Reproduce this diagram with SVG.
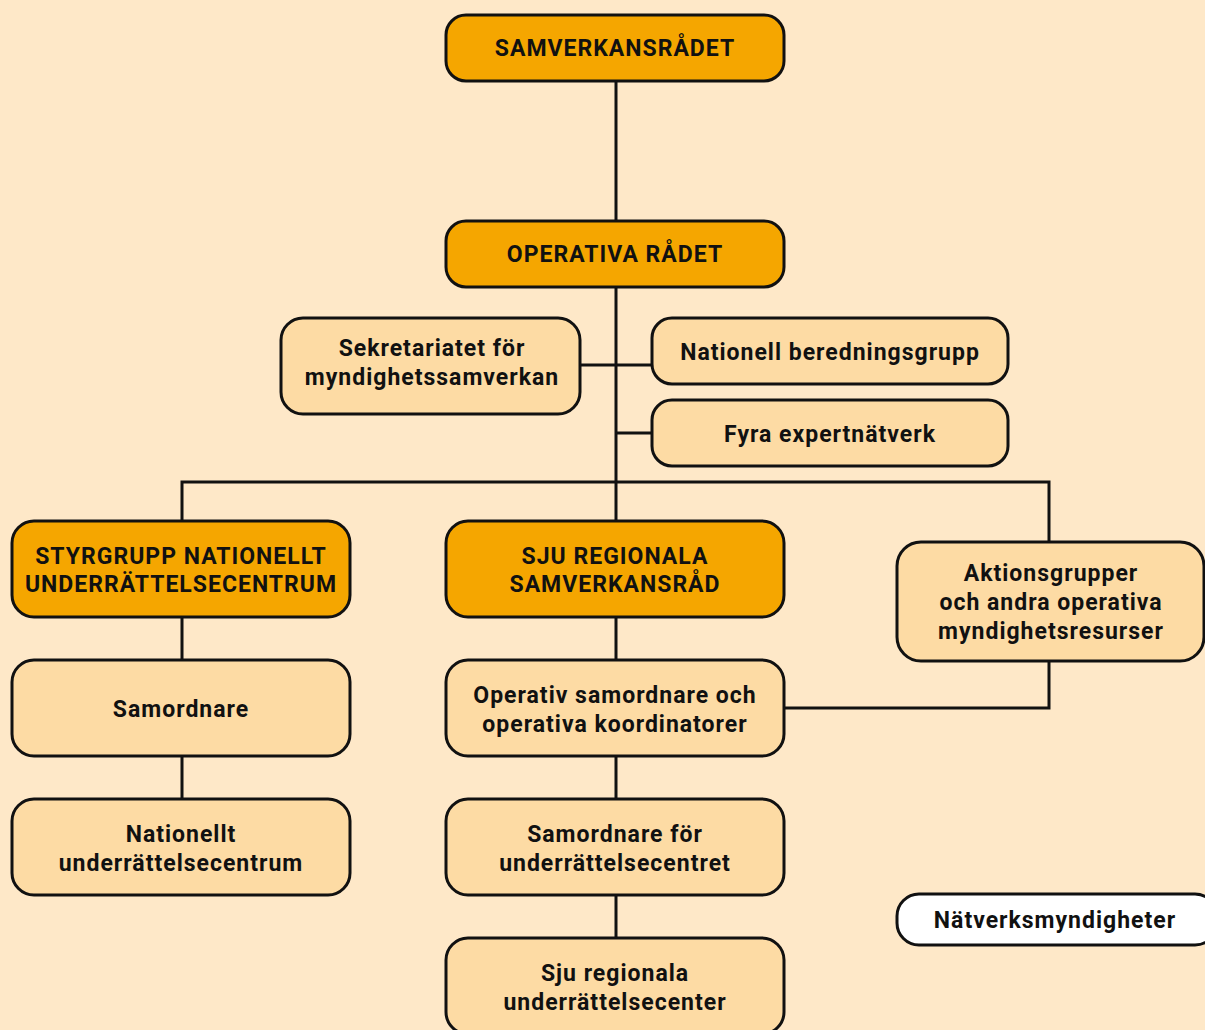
<svg xmlns="http://www.w3.org/2000/svg" width="1205" height="1030" viewBox="0 0 1205 1030">
<style>
.bg{fill:#FEE8C8}
.dark{fill:#F5A600;stroke:#111;stroke-width:3}
.light{fill:#FDDBA4;stroke:#111;stroke-width:3}
.white{fill:#FFFFFF;stroke:#111;stroke-width:3}
.t{font-family:Roboto,"Liberation Sans",sans-serif;font-weight:bold;font-size:23px;fill:#111;text-anchor:middle;letter-spacing:1px}
.c{fill:none;stroke:#111;stroke-width:3}
</style>
<rect class="bg" x="0" y="0" width="1205" height="1030"/>
<g id="connectors">
<path class="c" d="M616 81V221"/>
<path class="c" d="M616 287V521"/>
<path class="c" d="M580 365H652"/>
<path class="c" d="M616 433H652"/>
<path class="c" d="M182 521V482H1049V542"/>
<path class="c" d="M182 617V660M182 756V799"/>
<path class="c" d="M616 617V660M616 756V799M616 895V938"/>
<path class="c" d="M784 708H1049V661"/>
</g>
<g id="samverkansradet"><rect class="dark" x="446" y="15" width="338" height="66" rx="20"/><text class="t" x="615" y="56">SAMVERKANSRÅDET</text></g>
<g id="operativa-radet"><rect class="dark" x="446" y="221" width="338" height="66" rx="20"/><text class="t" x="615" y="262">OPERATIVA RÅDET</text></g>
<g id="sekretariatet"><rect class="light" x="281" y="318" width="299" height="96" rx="22"/><text class="t" x="432" y="356">Sekretariatet för</text><text class="t" x="432" y="385">myndighetssamverkan</text></g>
<g id="nationell-beredningsgrupp"><rect class="light" x="652" y="318" width="356" height="66" rx="20"/><text class="t" x="830" y="360">Nationell beredningsgrupp</text></g>
<g id="fyra-expertnatverk"><rect class="light" x="652" y="400" width="356" height="66" rx="20"/><text class="t" x="830" y="442">Fyra expertnätverk</text></g>
<g id="styrgrupp"><rect class="dark" x="12" y="521" width="338" height="96" rx="22"/><text class="t" x="181" y="564">STYRGRUPP NATIONELLT</text><text class="t" x="181" y="592">UNDERRÄTTELSECENTRUM</text></g>
<g id="sju-regionala-samverkansrad"><rect class="dark" x="446" y="521" width="338" height="96" rx="22"/><text class="t" x="615" y="564">SJU REGIONALA</text><text class="t" x="615" y="592">SAMVERKANSRÅD</text></g>
<g id="aktionsgrupper"><rect class="light" x="897" y="542" width="307" height="119" rx="24"/><text class="t" x="1051" y="581">Aktionsgrupper</text><text class="t" x="1051" y="610">och andra operativa</text><text class="t" x="1051" y="639">myndighetsresurser</text></g>
<g id="samordnare"><rect class="light" x="12" y="660" width="338" height="96" rx="22"/><text class="t" x="181" y="717">Samordnare</text></g>
<g id="operativ-samordnare"><rect class="light" x="446" y="660" width="338" height="96" rx="22"/><text class="t" x="615" y="703">Operativ samordnare och</text><text class="t" x="615" y="732">operativa koordinatorer</text></g>
<g id="nationellt-underrattelsecentrum"><rect class="light" x="12" y="799" width="338" height="96" rx="22"/><text class="t" x="181" y="842">Nationellt</text><text class="t" x="181" y="871">underrättelsecentrum</text></g>
<g id="samordnare-for-underrattelsecentret"><rect class="light" x="446" y="799" width="338" height="96" rx="22"/><text class="t" x="615" y="842">Samordnare för</text><text class="t" x="615" y="871">underrättelsecentret</text></g>
<g id="sju-regionala-underrattelsecenter"><rect class="light" x="446" y="938" width="338" height="96" rx="22"/><text class="t" x="615" y="981">Sju regionala</text><text class="t" x="615" y="1010">underrättelsecenter</text></g>
<g id="natverksmyndigheter"><rect class="white" x="897" y="894" width="320" height="51" rx="22"/><text class="t" x="1055" y="928">Nätverksmyndigheter</text></g>
</svg>
